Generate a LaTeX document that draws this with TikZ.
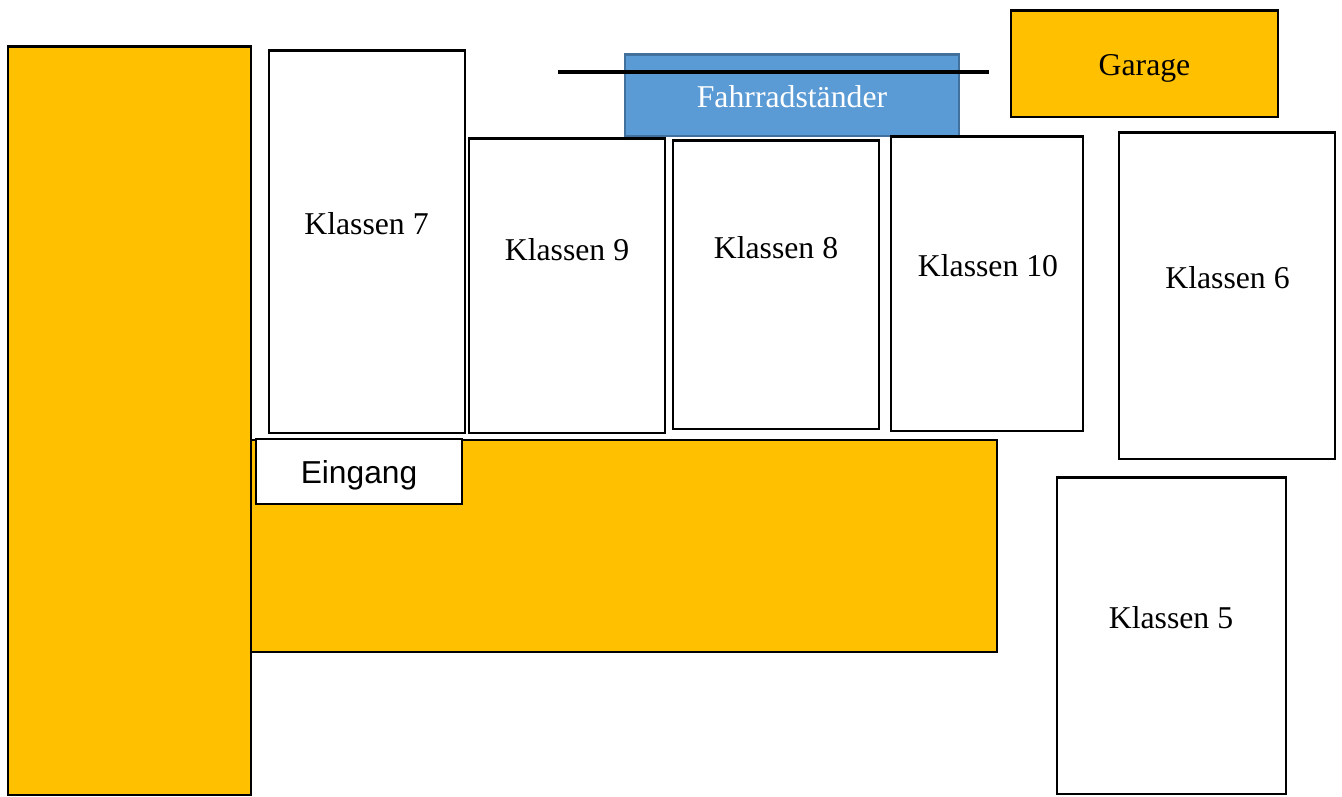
\documentclass[tikz,border=0pt]{standalone}
\usepackage{fontspec}
\setmainfont{Liberation Serif}
\newfontfamily\labelsans{Liberation Sans}
\definecolor{hallfill}{HTML}{FFC000}
\definecolor{rackfill}{HTML}{5B9BD5}
\definecolor{rackline}{HTML}{41719C}
\tikzset{
  x=0.75pt, y=-0.75pt,
  outline/.style={line width=2.1pt, draw=black},
  hall/.style={outline, fill=hallfill},
  room/.style={outline, fill=white},
  rack/.style={line width=2.1pt, draw=rackline, fill=rackfill},
  caption/.style={inner sep=0pt, font=\fontsize{23.8}{28}\selectfont, text=black, anchor=base},
}
\newcommand{\boxat}[6]{\path[#1] (#3,#4) rectangle (#5,#6) node[midway, inner sep=0pt, minimum size=0pt] (#2) {};}
\begin{document}
\begin{tikzpicture}
\useasboundingbox (0,0) rectangle (1342,796);
% Yellow buildings
\boxat{hall}{block}{8}{46.5}{251}{795}
\boxat{hall}{mainhall}{251}{440}{997}{652}
\boxat{hall}{garagebox}{1011}{10.5}{1278}{117}
% Bike rack
\boxat{rack}{rackbox}{625}{54.5}{959}{136}
\coordinate (barW) at (558,71.5);
\coordinate (barE) at (989,71.5);
\draw[line width=3pt, black] (barW) -- (barE);
% Rooms
\boxat{room}{k7}{269}{50.5}{465}{433}
\boxat{room}{k9}{469}{138.5}{665}{433}
\boxat{room}{k8}{673}{140.5}{879}{429}
\boxat{room}{k10}{891}{136.5}{1083}{431}
\boxat{room}{k6}{1119}{132.5}{1335}{459}
\boxat{room}{k5}{1057}{477.5}{1286}{794}
\boxat{room}{entry}{256}{439}{462}{504}
% Labels
\node[caption] (tGarage) at (1144.5,75) {Garage};
\node[caption, text=white] (tRack) at (792,107) {Fahrradständer};
\node[caption] (t7) at (366.5,234) {Klassen 7};
\node[caption] (t9) at (567,260) {Klassen 9};
\node[caption] (t8) at (776,258) {Klassen 8};
\node[caption] (t10) at (988,276) {Klassen 10};
\node[caption] (t6) at (1227.5,288) {Klassen 6};
\node[caption] (t5) at (1171,628) {Klassen 5};
\node[caption, font=\labelsans\fontsize{23.8}{28}\selectfont] (tEntry) at (359,483) {Eingang};
\end{tikzpicture}
\end{document}
